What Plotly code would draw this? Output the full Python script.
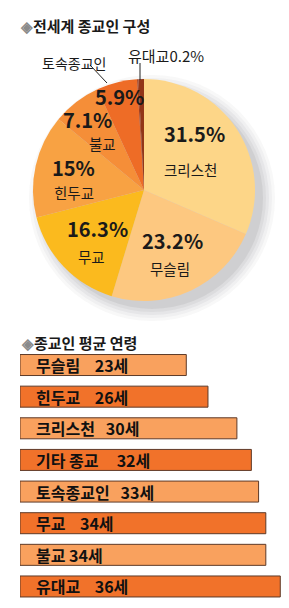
import plotly.graph_objects as go

W, H = 289, 608

# ---- data ----
pie_labels = ["크리스천", "무슬림", "무교", "힌두교", "불교", "토속종교인", "유대교", "기타"]
pie_values = [31.5, 23.2, 16.3, 15, 7.1, 5.9, 0.2, 0.8]
pie_colors = ["#FDD688", "#FDC880", "#FBBA1E", "#F8A243", "#F58E38", "#EE6C26", "#A43F1E", "#923618"]
pie_pct_text = ["31.5%", "23.2%", "16.3%", "15%", "7.1%", "5.9%"]

bar_names = ["무슬림", "힌두교", "크리스천", "기타 종교", "토속종교인", "무교", "불교", "유대교"]
bar_ages = [23, 26, 30, 32, 33, 34, 34, 36]
bar_gaps = [4, 4, 3, 5, 3, 4, 1, 4]
bar_colors = ["#F9A15E", "#F1722A"] * 4

FONT = "Noto Sans CJK KR"

def px(x):
    return x / W

def py(y):
    return 1 - y / H

def dom(cx, cy, r):
    return dict(x=[(cx - r) / W, (cx + r) / W], y=[1 - (cy + r) / H, 1 - (cy - r) / H])

fig = go.Figure()

CX, CY, R = 144, 190, 111

# soft shadow under the pie
for k, a in [(12, 0.035), (9, 0.04), (6, 0.05), (3, 0.06), (0, 0.08)]:
    fig.add_trace(go.Pie(values=[1], marker=dict(colors=[f"rgba(60,60,70,{a})"], line=dict(width=0)),
                         textinfo="none", hoverinfo="skip", sort=False, showlegend=False,
                         domain=dom(CX + 8, CY + 8, R + k)))

fig.add_trace(go.Pie(labels=pie_labels, values=pie_values, sort=False, direction="clockwise",
                     rotation=0, marker=dict(colors=pie_colors, line=dict(width=0)),
                     textinfo="none", hoverinfo="label+value", showlegend=False,
                     domain=dom(CX, CY, R)))

fig.add_trace(go.Bar(orientation="h", x=bar_ages, y=bar_names,
                     marker=dict(color=bar_colors, line=dict(color="#5e3a28", width=1)),
                     hoverinfo="x+y", showlegend=False, xaxis="x", yaxis="y"))

ann = []
def A(x, y, t, size, bold=False, color="#1a1a1a", xanchor="center", **kw):
    ann.append(dict(x=px(x), y=py(y), xref="paper", yref="paper", text=(f"<b>{t}</b>" if bold else t),
                    showarrow=False, xanchor=xanchor, yanchor="middle",
                    font=dict(family=FONT, size=size, color=color), **kw))

# titles
A(18, 26, "<span style='color:#8a8a8a'>◈</span>전세계 종교인 구성", 15, bold=True, xanchor="left")
A(19, 342, "<span style='color:#8a8a8a'>◈</span>종교인 평균 연령", 15, bold=True, xanchor="left")

# pie labels
pct_pos = [(194, 133), (172, 240), (97, 228), (73, 167), (87, 119), (119, 97)]
name_pos = [(190, 169), (170, 268), (91, 256), (74, 192), (102, 144)]
for t, (x, y) in zip(pie_pct_text, pct_pos):
    A(x, y, t, 20, bold=True)
for t, (x, y) in zip(pie_labels[:5], name_pos):
    A(x, y, t, 14.5)

# outside labels
A(74, 63, pie_labels[5], 14, xanchor="center")
A(166, 56, f"{pie_labels[6]}{pie_values[6]}%", 15, xanchor="center")

shapes = [
    dict(type="line", xref="paper", yref="paper", x0=px(90), y0=py(65), x1=px(107), y1=py(83),
         line=dict(color="#222", width=1)),
    dict(type="line", xref="paper", yref="paper", x0=px(140), y0=py(63), x1=px(140), y1=py(80),
         line=dict(color="#222", width=1)),
]

# bar labels
for n, v, g in zip(bar_names, bar_ages, bar_gaps):
    ann.append(dict(x=0, y=n, xref="x", yref="y", xanchor="left", yanchor="middle", xshift=14,
                    text="<b>" + n + "\u00a0" * g + f"{v}세</b>", showarrow=False,
                    font=dict(family=FONT, size=16, color="#111")))

top, bot = 349.2, 602.3
fig.update_layout(
    width=W, height=H, margin=dict(l=0, r=0, t=0, b=0),
    paper_bgcolor="white", plot_bgcolor="white",
    xaxis=dict(domain=[px(20), 1], range=[0, (W - 20) / 7.23], visible=False, fixedrange=True),
    yaxis=dict(domain=[py(bot), py(top)], range=[7.5, -0.5], categoryorder="array",
               categoryarray=bar_names, visible=False, fixedrange=True),
    bargap=0.336,
    annotations=ann, shapes=shapes,
)

fig.write_html("out.html")
